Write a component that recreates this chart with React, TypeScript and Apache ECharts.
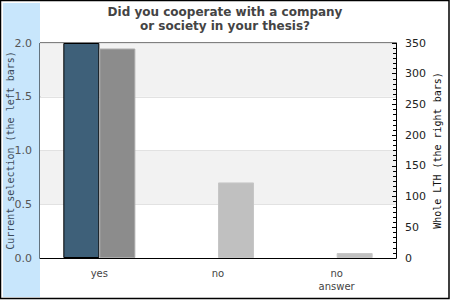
import React, { useEffect, useRef } from "react";
import * as echarts from "echarts";

const categories = ["yes", "no", "no\nanswer"];
const currentSelection = [2.0, 0, 0];
const wholeLTH = [341, 123, 8];
const leftTicks = { min: 0, max: 2, interval: 0.5 };
const rightTicks = { min: 0, max: 350, interval: 50 };

export default function App() {
  const ref = useRef<HTMLDivElement>(null);
  useEffect(() => {
    document.body.style.margin = "0";
    const chart = echarts.init(ref.current!, null, { renderer: "svg" });
    chart.setOption({
      animation: false,
      backgroundColor: "#ffffff",
      title: {
        text: "Did you cooperate with a company\nor society in your thesis?",
        left: "center",
        top: 0,
        textStyle: {
          fontFamily: "DejaVu Sans",
          fontWeight: "bold",
          fontSize: 12,
          color: "#444444",
          lineHeight: 14,
        },
      },
      graphic: [
        {
          type: "rect",
          z: -10,
          shape: { x: 3, y: 3, width: 37, height: 294 },
          style: { fill: "#c8e6fc" },
        },
        {
          type: "rect",
          z: 100,
          shape: { x: 0.5, y: 0.5, width: 448.5, height: 298 },
          style: { fill: "none", stroke: "#000", lineWidth: 1.5 },
        },
      ],
      grid: {
        left: 40,
        right: 54,
        top: 43,
        bottom: 42,
        containLabel: false,
        outerBoundsMode: "none",
        show: true,
        borderColor: "#000",
        borderWidth: 1,
        backgroundColor: "transparent",
      },
      xAxis: {
        type: "category",
        data: categories,
        axisLine: { lineStyle: { color: "#000" } },
        axisTick: { show: false },
        axisLabel: {
          fontFamily: "DejaVu Sans",
          fontSize: 10,
          color: "#444",
          margin: 9,
          lineHeight: 13,
        },
      },
      yAxis: [
        {
          type: "value",
          ...leftTicks,
          position: "left",
          name: "Current selection (the left bars)",
          nameLocation: "middle",
          nameGap: 25,
          nameMoveOverlap: false,
          nameTextStyle: {
            fontFamily: "DejaVu Sans Mono",
            fontSize: 10,
            color: "#3b4a5a",
          },
          axisLine: { show: false },
          axisTick: { show: false },
          axisLabel: {
            fontFamily: "DejaVu Sans",
            fontSize: 11,
            color: "#555",
            margin: 8,
            formatter: (v: number) => v.toFixed(1),
          },
          splitLine: { show: true, lineStyle: { color: "#e2e2e2" } },
          splitArea: { show: true, areaStyle: { color: ["#ffffff", "#f2f2f2"] } },
        },
        {
          type: "value",
          ...rightTicks,
          position: "right",
          name: "Whole LTH (the right bars)",
          nameLocation: "middle",
          nameGap: 36,
          nameMoveOverlap: false,
          nameRotate: 90,
          nameTextStyle: {
            fontFamily: "DejaVu Sans Mono",
            fontSize: 10,
            color: "#111",
          },
          axisLine: { show: true, lineStyle: { color: "#000" } },
          axisTick: { show: true, inside: true, length: 4, lineStyle: { color: "#000" } },
          minorTick: { show: true, splitNumber: 6, length: 3, lineStyle: { color: "#000" } },
          axisLabel: {
            fontFamily: "DejaVu Sans",
            fontSize: 11,
            color: "#222",
            margin: 9,
          },
          splitLine: { show: false },
        },
      ],
      series: [
        {
          type: "bar",
          yAxisIndex: 0,
          data: currentSelection.map((v) => ({
            value: v,
            itemStyle:
              v > 0
                ? { color: "#3e6079", borderColor: "#000", borderWidth: 1 }
                : { color: "transparent", borderWidth: 0 },
          })),
          barWidth: 36,
          barGap: "0%",
        },
        {
          type: "bar",
          yAxisIndex: 1,
          data: wholeLTH.map((v, i) => ({
            value: v,
            itemStyle:
              i === 0
                ? { color: "#8c8c8c", borderColor: "#aaaaaa", borderWidth: 1 }
                : { color: "#c0c0c0", borderColor: "#c6c6c6", borderWidth: 1 },
          })),
          barWidth: 36,
          barGap: "0%",
        },
      ],
    });
    return () => chart.dispose();
  }, []);
  return <div ref={ref} style={{ width: 450, height: 300 }} />;
}
